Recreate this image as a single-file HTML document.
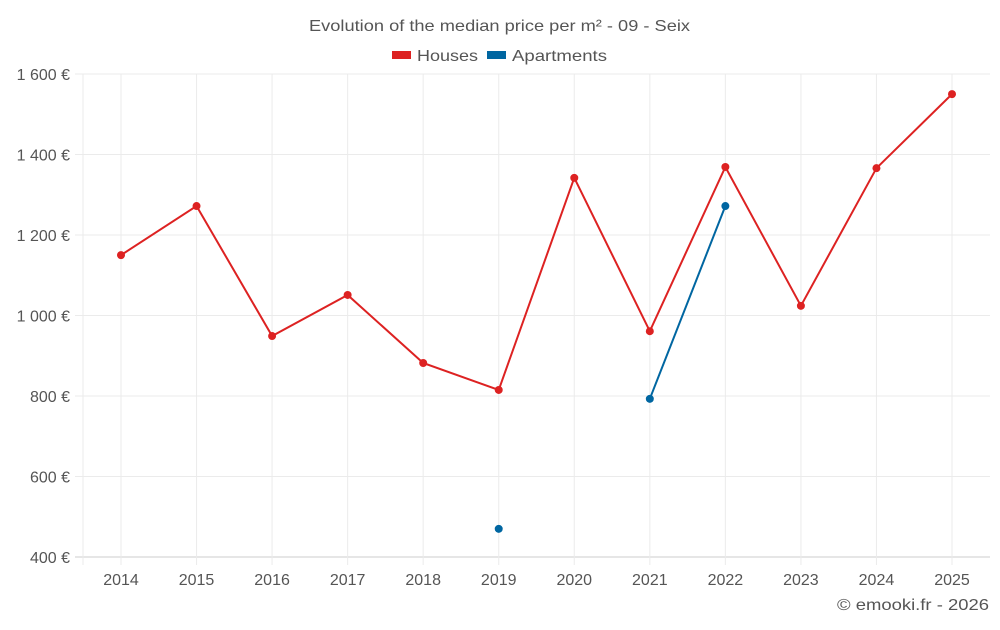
<!DOCTYPE html>
<html><head><meta charset="utf-8"><style>
body{margin:0;background:#fff;font-family:"Liberation Sans",sans-serif}
</style></head><body>
<svg id="c" width="1000" height="625" xmlns="http://www.w3.org/2000/svg"></svg>
<script>
const years=["2014","2015","2016","2017","2018","2019","2020","2021","2022","2023","2024","2025"];
const houses=[1150,1272,949,1051,882,815,1342,961,1369,1024,1366,1550];
const apartments=[null,null,null,null,null,470,null,793,1272,null,null,null];
const yTicks=[400,600,800,1000,1200,1400,1600];
const yTickLabels=["400 €","600 €","800 €","1 000 €","1 200 €","1 400 €","1 600 €"];
const svg=document.getElementById('c');const NS='http://www.w3.org/2000/svg';
const L=83,R=990,T=74,B=557;
const x=i=>121+i*(952-121)/(years.length-1);
const y=v=>B-(v-400)/1200*(B-T);
function el(t,a,txt){const e=document.createElementNS(NS,t);for(const k in a)e.setAttribute(k,a[k]);if(txt!==undefined)e.textContent=txt;svg.appendChild(e);return e;}
let e;
e=el('text',{x:309,y:31,'font-size':16,fill:'#555',textLength:381,lengthAdjust:'spacingAndGlyphs'},'Evolution of the median price per m² - 09 - Seix');


e=el('rect',{x:392,y:51,width:19,height:8,fill:'#dd2222'});


e=el('text',{x:417,y:61,'font-size':16,fill:'#555',textLength:61,lengthAdjust:'spacingAndGlyphs'},'Houses');


e=el('rect',{x:487,y:51,width:19,height:8,fill:'#0066a1'});


e=el('text',{x:512,y:61,'font-size':16,fill:'#555',textLength:95,lengthAdjust:'spacingAndGlyphs'},'Apartments');


yTicks.forEach((v,i)=>{
 e=el('line',{x1:75,x2:R,y1:y(v),y2:y(v),stroke:i==0?'#ccc':'#ebebeb'});
 
 
 e=el('text',{x:70,y:y(v)+6,'text-anchor':'end','font-size':16,fill:'#555'},yTickLabels[i]);
 
 
});
e=el('line',{x1:L,x2:L,y1:T,y2:B+8,stroke:'#ebebeb'});


years.forEach((yr,i)=>{
 e=el('line',{x1:x(i),x2:x(i),y1:T,y2:B+8,stroke:'#ebebeb'});
 
 
 e=el('text',{x:x(i),y:585,'text-anchor':'middle','font-size':16,fill:'#555'},yr);
 
 
});
function series(vals,color,name){
 let d='',pen=false;
 vals.forEach((v,i)=>{if(v==null){pen=false;return;}d+=(pen?'L':'M')+x(i)+','+y(v);pen=true;});
 e=el('path',{d:d,fill:'none',stroke:color,'stroke-width':2});
 
 
 vals.forEach((v,i)=>{if(v==null)return;
  e=el('circle',{cx:x(i),cy:y(v),r:4,fill:color});
  
  
 });
}
series(houses,'#dd2222','houses');
series(apartments,'#0066a1','apartments');
e=el('text',{x:837,y:610,'font-size':16,fill:'#555',textLength:152,lengthAdjust:'spacingAndGlyphs'},'© emooki.fr - 2026');


</script>
</body></html>
